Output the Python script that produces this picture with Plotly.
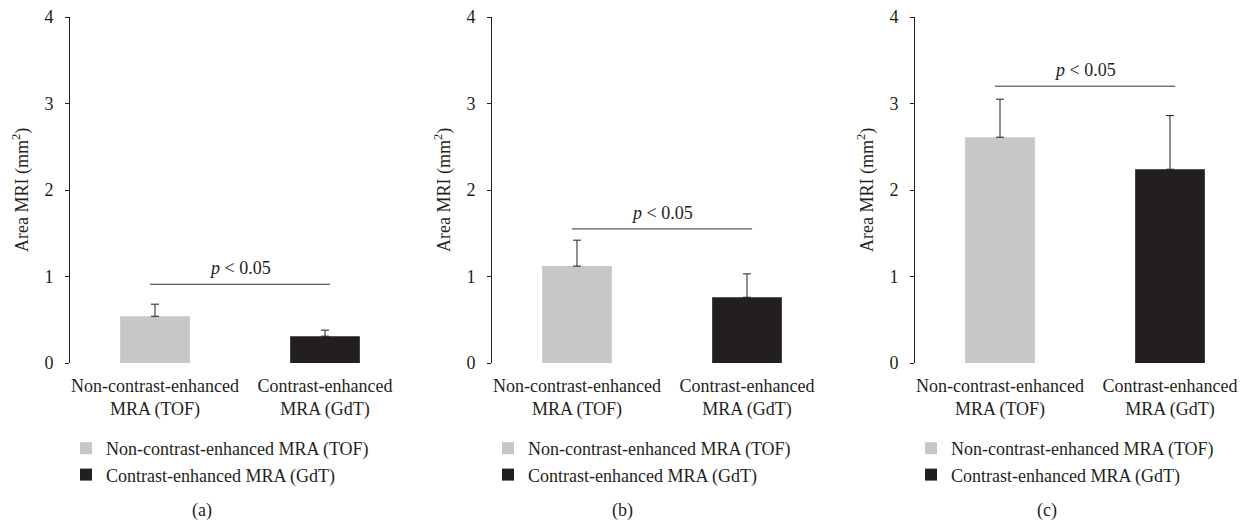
import plotly.graph_objects as go

# ---- data ----
panels = ["(a)", "(b)", "(c)"]
categories = ["Non-contrast-enhanced<br>MRA (TOF)", "Contrast-enhanced<br>MRA (GdT)"]
series_names = ["Non-contrast-enhanced MRA (TOF)", "Contrast-enhanced MRA (GdT)"]
tof_mean = [0.54, 1.12, 2.61]
tof_err = [0.14, 0.30, 0.44]
gdt_mean = [0.31, 0.76, 2.24]
gdt_err = [0.07, 0.27, 0.62]
sig_level = [0.91, 1.55, 3.20]
sig_span = [-0.03, 1.03]
y_ticks = [0, 1, 2, 3, 4]
p_text = "<i>p</i> < 0.05"

# ---- style ----
FONT = "Liberation Serif, Times New Roman, serif"
FS = 18
GRAY = "#c6c7c9"
BLACK = "#231f20"
W, H = 1250, 524
x_px = [(70, 405), (492, 827), (915, 1250)]
y_dom = [(524 - 363) / 524, (524 - 17) / 524]
legend_x_px = [66, 488, 911]
label_x_px = [202, 622, 1047]

fig = go.Figure()
layout = dict(
    width=W, height=H, margin=dict(l=0, r=0, t=0, b=0, autoexpand=False),
    paper_bgcolor="white", plot_bgcolor="white",
    font=dict(family=FONT, size=FS, color=BLACK),
    barmode="overlay", showlegend=True, annotations=[],
)

for i in range(3):
    xa = "x" if i == 0 else f"x{i+1}"
    ya = "y" if i == 0 else f"y{i+1}"
    lg = "legend" if i == 0 else f"legend{i+1}"
    for j, (vals, errs, col) in enumerate([(tof_mean, tof_err, GRAY), (gdt_mean, gdt_err, BLACK)]):
        fig.add_trace(go.Bar(
            x=[j], y=[vals[i]], width=0.41, name=series_names[j],
            marker=dict(color=col, line=dict(width=0)),
            error_y=dict(type="data", symmetric=False, array=[errs[i]], arrayminus=[0],
                         color=BLACK, thickness=1, width=4),
            xaxis=xa, yaxis=ya, legend=lg, legendgroup=f"g{i}{j}",
        ))
    fig.add_trace(go.Scatter(
        x=sig_span, y=[sig_level[i]] * 2, mode="lines",
        line=dict(color="#333333", width=1), showlegend=False, hoverinfo="skip",
        xaxis=xa, yaxis=ya,
    ))
    x0, x1 = x_px[i]
    xkey = "xaxis" if i == 0 else f"xaxis{i+1}"
    ykey = "yaxis" if i == 0 else f"yaxis{i+1}"
    layout[xkey] = dict(
        domain=[x0 / W, x1 / W], anchor=ya, range=[-0.5, -0.5 + (x1 - x0) / 170],
        tickmode="array", tickvals=[0, 1], ticktext=categories,
        showline=False, ticks="", showgrid=False, zeroline=False, automargin=False,
        ticklabelstandoff=10, tickfont=dict(size=FS), fixedrange=True,
    )
    layout[ykey] = dict(
        domain=y_dom, anchor=xa, range=[0, 4], tickmode="array", tickvals=y_ticks,
        showline=True, linecolor=BLACK, linewidth=1, ticks="outside", ticklen=4,
        tickcolor=BLACK, tickwidth=1, showgrid=False, zeroline=False, automargin=False,
        ticklabelstandoff=8, tickfont=dict(size=FS),
    )
    layout[lg] = dict(
        x=legend_x_px[i] / W, xanchor="left", y=1 - 430 / H, yanchor="top",
        bgcolor="rgba(0,0,0,0)", font=dict(size=FS, family=FONT), tracegroupgap=0,
        itemclick=False, itemdoubleclick=False,
    )
    layout["annotations"] += [
        dict(text=p_text, x=0.5, y=sig_level[i], xref=xa, yref=ya, showarrow=False,
             xanchor="center", yanchor="bottom", yshift=4, font=dict(size=FS)),
        dict(text="Area MRI (mm<sup>2</sup>)", x=0, y=0.5, xref=f"{xa} domain",
             yref=f"{ya} domain", xshift=-49, textangle=-90, showarrow=False,
             xanchor="center", yanchor="middle", font=dict(size=FS)),
        dict(text=panels[i], x=label_x_px[i] / W, y=1 - 510 / H, xref="paper",
             yref="paper", showarrow=False, xanchor="center", yanchor="middle",
             font=dict(size=FS)),
    ]

fig.update_layout(**layout)
fig.write_html("out.html")
